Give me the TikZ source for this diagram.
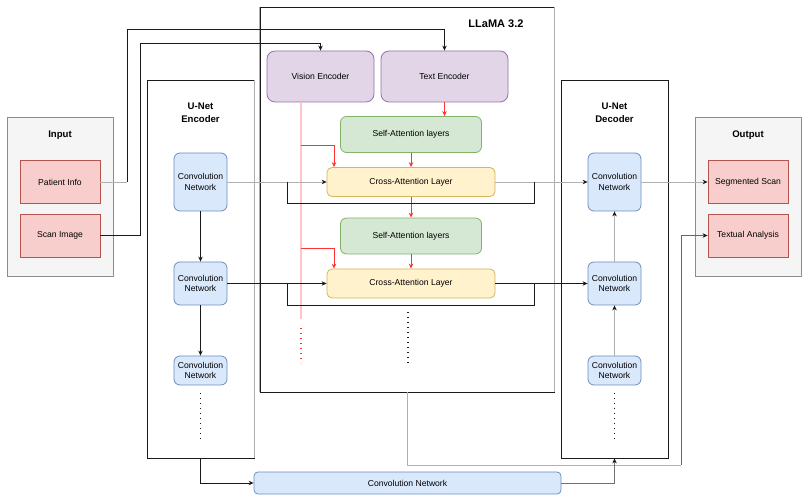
\documentclass[tikz,border=0pt]{standalone}
\usepackage{fontspec}
\setmainfont{Liberation Sans}
\usetikzlibrary{arrows.meta,calc}
\definecolor{redF}{HTML}{F8CECC}\definecolor{redS}{HTML}{B85450}
\definecolor{bluF}{HTML}{DAE8FC}\definecolor{bluS}{HTML}{6C8EBF}
\definecolor{purF}{HTML}{E1D5E7}\definecolor{purS}{HTML}{9673A6}
\definecolor{grnF}{HTML}{D5E8D4}\definecolor{grnS}{HTML}{82B366}
\definecolor{yelF}{HTML}{FFF2CC}\definecolor{yelS}{HTML}{D6B656}
\definecolor{gryF}{HTML}{F5F5F5}\definecolor{gryS}{HTML}{8C8C8C}
\definecolor{lineK}{HTML}{1A1A1A}\definecolor{lineG}{HTML}{B0B0B0}
\definecolor{redL}{HTML}{FF3333}\definecolor{redP}{HTML}{FFC4C4}
\begin{document}
\begin{tikzpicture}[x=1pt,y=-1pt,
  base/.style={inner sep=0pt, font=\fontsize{8.6}{10.3}\selectfont, align=center, line width=0.8pt},
  redbox/.style={base, draw=redS, fill=redF, minimum width=80pt, minimum height=43pt},
  blubox/.style={base, draw=bluS, fill=bluF, rounded corners=6pt},
  purbox/.style={base, draw=purS, fill=purF, rounded corners=8pt, minimum height=51pt},
  grnbox/.style={base, draw=grnS, fill=grnF, rounded corners=6pt, minimum width=141pt, minimum height=36pt},
  yelbox/.style={base, draw=yelS, fill=yelF, rounded corners=5pt, minimum width=168pt, minimum height=29pt},
  graycont/.style={base, draw=gryS, fill=gryF, minimum width=106pt, minimum height=159pt},
  cont/.style={base, draw=lineK, fill=white, minimum width=107pt, minimum height=378pt},
  ttl/.style={font=\bfseries\fontsize{9.6}{12.7}\selectfont, align=center, inner sep=0pt},
  blk/.style={line width=0.8pt, draw=lineK},
  gry/.style={line width=0.8pt, draw=lineG},
  redl/.style={line width=0.8pt, draw=redL},
  arr/.style={-{Stealth[length=5pt,width=4.5pt,color=lineK]}},
  arrR/.style={-{Stealth[length=5pt,width=4.5pt,color=redL]}},
  dots/.style={line width=1.3pt, dash pattern=on 1.3pt off 3.7pt}
]
\useasboundingbox (0,0) rectangle (809,502);

% containers
\node[graycont] (input) at (60,196.5) {};
\node[ttl] (tin) at (60,135) {Input};
\node[graycont] (output) at (748,196.5) {};
\node[ttl] (tout) at (748,135) {Output};

\node[cont] (enc) at (200.5,269) {};
\draw[gry] (enc.north east) -- (enc.south east);
\node[ttl] (tenc) at (200.5,113) {U-Net\\Encoder};

\node[cont, minimum width=294pt, minimum height=385pt] (llama) at (407,199.5) {};
\draw[gry] (llama.north west) -- (llama.south west);
\draw[gry] (llama.north east) -- (llama.south east);
\node[ttl, font=\bfseries\fontsize{11}{13}\selectfont] (tllama) at (496,24) {LLaMA 3.2};

\node[cont] (dec) at (614.5,269) {};
\node[ttl] (tdec) at (614.5,113) {U-Net\\Decoder};

% input / output boxes
\node[redbox] (pinfo) at (60,182) {Patient Info};
\node[redbox] (scan) at (60,235.5) {Scan Image};
\node[redbox] (seg) at (748,182) {Segmented Scan};
\node[redbox] (txtan) at (748,235.5) {Textual Analysis};

% LLaMA internals
\node[purbox, minimum width=107pt] (vis) at (320.5,76.5) {Vision Encoder};
\node[purbox, minimum width=127pt] (txt) at (444.5,76.5) {Text Encoder};
\node[grnbox] (sa1) at (411,134.5) {Self-Attention layers};
\node[yelbox] (ca1) at (411,182) {Cross-Attention Layer};
\node[grnbox] (sa2) at (411,236) {Self-Attention layers};
\node[yelbox] (ca2) at (411,283.5) {Cross-Attention Layer};

% vision encoder feed line
\coordinate (rx) at (301,319);
\coordinate (rd1) at (301,328);
\coordinate (rd2) at (301,363);
\draw[line width=1.6pt, draw=redP] (vis.south -| rx) -- (rx);
\draw[dots, draw=redL] (rd1) -- (rd2);
\coordinate (r1) at (301,145);
\coordinate (r2) at (301,248);
\coordinate (rt) at (334,0);
\draw[redl, arrR] (r1) -| (ca1.north -| rt);
\draw[redl, arrR] (r2) -| (ca2.north -| rt);
\draw[redl, arrR] (txt.south) -- (txt.south |- sa1.north);
\draw[redl, arrR] (sa1.south) -- (ca1.north);
\draw[redl, arrR] (ca1.south) -- (sa2.north);
\draw[redl, arrR] (sa2.south) -- (ca2.north);
\coordinate (ld1) at (408,312);
\coordinate (ld2) at (408,366);
\draw[dots, draw=lineK] (ld1) -- (ld2);

% encoder
\node[blubox, minimum width=53pt, minimum height=58pt] (econv1) at (200.5,182) {Convolution\\Network};
\node[blubox, minimum width=53pt, minimum height=43pt] (econv2) at (200.5,283.5) {Convolution\\Network};
\node[blubox, minimum width=53pt, minimum height=29pt] (econv3) at (200.5,370.5) {Convolution\\Network};
\draw[blk, arr] (econv1.south) -- (econv2.north);
\draw[blk, arr] (econv2.south) -- (econv3.north);
\coordinate (ed1) at (200.5,393);
\coordinate (ed2) at (200.5,440);
\draw[dots, draw=lineK] (ed1) -- (ed2);

% decoder
\node[blubox, minimum width=53pt, minimum height=58pt] (dconv1) at (614.5,182) {Convolution\\Network};
\node[blubox, minimum width=53pt, minimum height=43pt] (dconv2) at (614.5,283.5) {Convolution\\Network};
\node[blubox, minimum width=53pt, minimum height=29pt] (dconv3) at (614.5,370.5) {Convolution\\Network};
\draw[gry, arr] (dconv2.north) -- (dconv1.south);
\draw[gry, arr] (dconv3.north) -- (dconv2.south);
\coordinate (dd1) at (614.5,393);
\coordinate (dd2) at (614.5,440);
\draw[dots, draw=lineK] (dd1) -- (dd2);

% bottom convolution
\node[blubox, minimum width=307pt, minimum height=22pt, rounded corners=4pt] (bconv) at (407.5,483) {Convolution Network};

% inputs to encoders
\coordinate (pb) at (127,29);
\coordinate (pc) at (127,182);
\coordinate (sb) at (140,43);
\draw[gry] (pinfo.east) -- (pc);
\draw[blk, arr] (pc) -- (pb) -| (txt.north);
\draw[blk, arr] (scan.east) -| (sb) -| (vis.north);

% skip connections row 1
\draw[gry, arr] (econv1.east) -- (ca1.west);
\draw[gry, arr] (ca1.east) -- (dconv1.west);
\coordinate (k1a) at (287,182);
\coordinate (k1b) at (287,203);
\coordinate (k1c) at (534,203);
\coordinate (k1d) at (534,182);
\draw[blk] (k1a) -- (k1b) -- (k1c) -- (k1d);
% row 2
\draw[blk, arr] (econv2.east) -- (ca2.west);
\draw[blk, arr] (ca2.east) -- (dconv2.west);
\coordinate (k2a) at (287,283.5);
\coordinate (k2b) at (287,305);
\coordinate (k2c) at (534,305);
\coordinate (k2d) at (534,283.5);
\draw[blk] (k2a) -- (k2b) -- (k2c) -- (k2d);

% outputs
\draw[gry, arr] (dconv1.east) -- (seg.west);
\coordinate (lb) at (681,465);
\draw[gry] (llama.south) |- (lb);
\draw[line width=0.8pt, draw=gray!80!black, arr] (lb) |- (txtan.west);

% bottleneck
\draw[blk, arr] (enc.south) |- (bconv.west);
\draw[line width=0.8pt, draw=gray!90!black, arr] (bconv.east) -| (dec.south);
\end{tikzpicture}
\end{document}
